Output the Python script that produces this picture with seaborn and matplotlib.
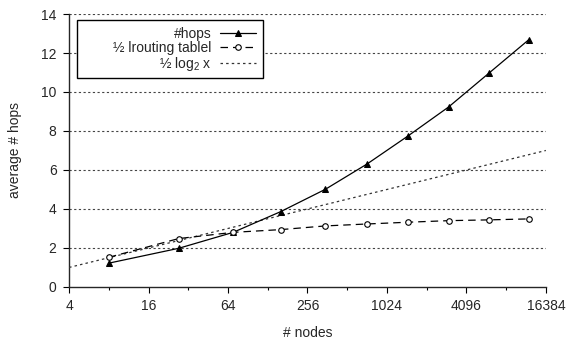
import matplotlib
matplotlib.use("Agg")
import matplotlib.pyplot as plt
from matplotlib.patches import Rectangle
import seaborn as sns
import pandas as pd

# Network sizes and measured averages
nodes = [8, 27, 70, 160, 350, 725, 1475, 3000, 6050, 12150]
hops = [1.22, 1.98, 2.80, 3.86, 5.01, 6.31, 7.74, 9.23, 10.96, 12.68]
half_table = [1.52, 2.48, 2.80, 2.94, 3.13, 3.23, 3.32, 3.40, 3.44, 3.49]

# Reference curve 1/2 log2 x, given by its end points
ref_x = [4, 16384]
ref_y = [1, 7]

x_ticks = [4, 16, 64, 256, 1024, 4096, 16384]
x_minor = [8, 32, 128, 512, 2048, 8192]
y_ticks = [0, 2, 4, 6, 8, 10, 12, 14]

sns.set_style("ticks")
plt.rcParams["font.family"] = ["Liberation Sans", "DejaVu Sans"]
plt.rcParams["mathtext.fontset"] = "custom"
plt.rcParams["mathtext.rm"] = "Liberation Sans"
plt.rcParams["mathtext.it"] = "Liberation Sans"
plt.rcParams["font.size"] = 10

fig = plt.figure(figsize=(5.71, 3.42), dpi=100)
ax = fig.add_axes([0.121, 0.161, 0.835, 0.798])

df = pd.DataFrame({"nodes": nodes, "hops": hops, "half": half_table})
ref = pd.DataFrame({"x": ref_x, "y": ref_y})

sns.lineplot(data=df, x="nodes", y="hops", ax=ax, color="black", lw=0.9,
             marker="^", markersize=5, markeredgecolor="black",
             markerfacecolor="black", label="#hops", zorder=4)
sns.lineplot(data=df, x="nodes", y="half", ax=ax, color="black", lw=0.9,
             marker="o", markersize=4, markeredgecolor="black",
             markerfacecolor="white", markeredgewidth=0.8,
             label="½ lrouting tablel", zorder=4)
ax.lines[-1].set_dashes([6, 4])
sns.lineplot(data=ref, x="x", y="y", ax=ax, color="#333333", lw=0.9,
             label="½ log$_2$ x", zorder=3)
ax.lines[-1].set_dashes([2, 2.5])

ax.set_xscale("log", base=2)
ax.set_xlim(4, 16384)
ax.set_ylim(0, 14)
ax.set_xticks(x_ticks)
ax.set_xticklabels([str(v) for v in x_ticks])
ax.set_xticks(x_minor, minor=True)
ax.set_xticklabels([], minor=True)
ax.set_yticks(y_ticks)
ax.set_yticklabels([str(v) for v in y_ticks])

for y in y_ticks[1:]:
    ax.axhline(y, color="#444444", lw=0.8, dashes=[2, 2.2], zorder=1)

ax.tick_params(axis="both", which="major", direction="out", length=4,
               width=0.8, color="black", labelsize=10, pad=5)
ax.tick_params(axis="x", which="minor", direction="out", length=2,
               width=0.8, color="black")
sns.despine(ax=ax)
ax.spines["left"].set_linewidth(1.0)
ax.spines["bottom"].set_linewidth(1.0)

ax.set_xlabel("# nodes", fontsize=10, labelpad=9)
ax.set_ylabel("average # hops", fontsize=10, labelpad=14)

# Legend entries right-aligned with handles on the right, inside a boxed area
leg = ax.legend(loc="upper right", bbox_to_anchor=(0.392, 0.954),
                markerfirst=False, frameon=False, fontsize=10,
                handlelength=2.6, labelspacing=0.02, borderpad=0,
                handletextpad=0.6, borderaxespad=0)
for t in leg.get_texts():
    t.set_ha("right")
leg._legend_box.align = "right"
leg.set_zorder(6)

ax.add_patch(Rectangle((0.0168, 0.7656), 0.39, 0.2124, transform=ax.transAxes,
                       facecolor="white", edgecolor="black", lw=1.0,
                       zorder=5, clip_on=False))

fig.savefig("out.png", dpi=100)
